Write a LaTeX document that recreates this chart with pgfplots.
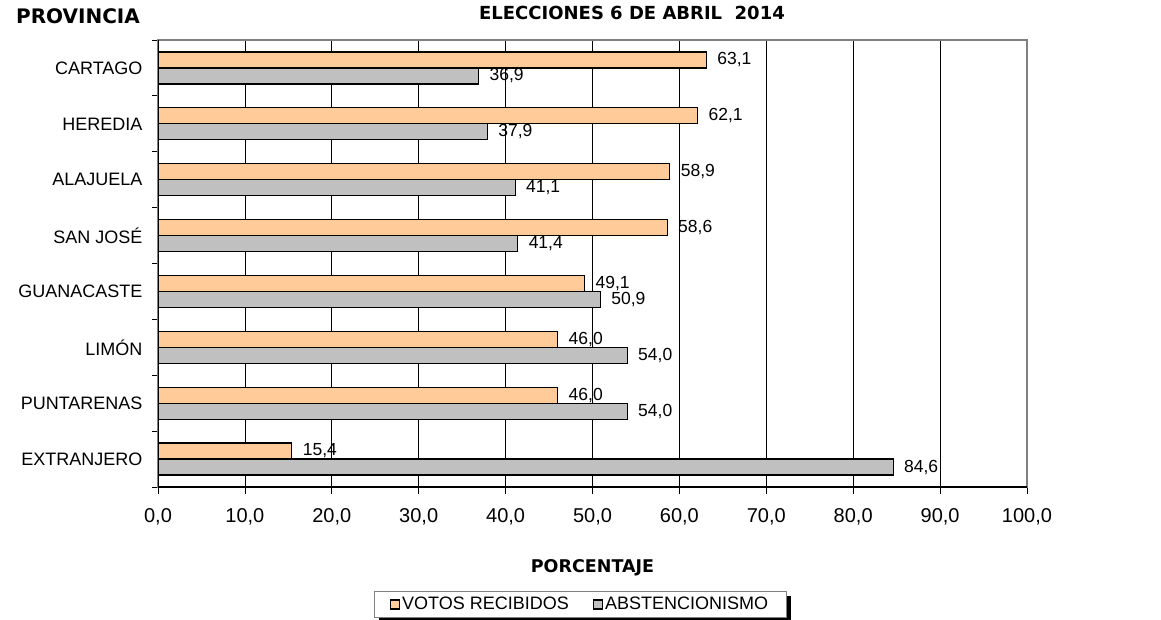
\documentclass[border=0pt]{standalone}
\usepackage{fontspec}
\setmainfont{Liberation Sans}
\newfontfamily\titlefont{DejaVu Sans}
\usepackage{pgfplots}
\pgfplotsset{compat=1.18}
\definecolor{votos}{HTML}{FFCC99}
\definecolor{abst}{HTML}{C0C0C0}
\begin{document}
\begin{tikzpicture}[x=1pt,y=1pt]
\useasboundingbox (0,0) rectangle (1161,619);
\begin{axis}[
  at={(158pt,132pt)}, anchor=south west,
  scale only axis, width=869pt, height=447pt,
  xbar, bar width=16pt,
  xmin=0, xmax=100, ymin=0.5, ymax=8.5,
  xtick={0,10,...,100},
  ytick={1,...,8},
  yticklabels={EXTRANJERO,PUNTARENAS,LIMÓN,GUANACASTE,SAN JOSÉ,ALAJUELA,HEREDIA,CARTAGO},
  minor ytick={0.5,1.5,...,8.5},
  xtick pos=bottom, ytick pos=left,
  tick align=outside,
  major tick length=7pt,
  minor tick length=6pt,
  major y tick style={draw=none},
  minor y tick style={black, line width=0.8pt},
  major x tick style={black, line width=0.8pt},
  xmajorgrids,
  grid style={black, line width=0.8pt},
  axis line style={draw=gray, line width=1.2pt},
  x tick label style={font=\fontsize{20}{20}\selectfont, yshift=-11pt, /pgf/number format/.cd, fixed, fixed zerofill, precision=1, use comma, assume math mode=true},
  y tick label style={font=\fontsize{18}{18}\selectfont, xshift=-5pt},
  xlabel={\titlefont\bfseries PORCENTAJE},
  xlabel style={font=\fontsize{17.5}{17.5}\selectfont, at={(axis description cs:0.5,-0.181)}, anchor=center},
  point meta=x,
  nodes near coords={\pgfmathprintnumber[fixed,fixed zerofill,precision=1,use comma,assume math mode=true]{\pgfplotspointmeta}},
  nodes near coords style={anchor=west, xshift=7pt, font=\fontsize{17.5}{17.5}\selectfont},
  legend columns=2,
  legend style={name=leg, at={(0.4856,-0.2617)}, anchor=center, draw=gray, line width=0.8pt, fill=white,
    font=\fontsize{18}{18}\selectfont,
    /tikz/every even column/.append style={column sep=22pt},
    inner xsep=16pt, inner ysep=4pt},
  legend cell align=left,
]
\addplot[fill=votos, draw=black, line width=1.3pt, bar shift=8pt,
  legend image code/.code={\draw[fill=votos, draw=black, line width=1.2pt] (0pt,-5pt) rectangle (9pt,4pt);}]
  coordinates {(63.1,8) (62.1,7) (58.9,6) (58.6,5) (49.1,4) (46.0,3) (46.0,2) (15.4,1)};
\addplot[fill=abst, draw=black, line width=1.3pt, bar shift=-8pt,
  legend image code/.code={\draw[fill=abst, draw=black, line width=1.2pt] (0pt,-5pt) rectangle (9pt,4pt);}]
  coordinates {(36.9,8) (37.9,7) (41.1,6) (41.4,5) (50.9,4) (54.0,3) (54.0,2) (84.6,1)};
\legend{VOTOS RECIBIDOS, ABSTENCIONISMO}
\draw[black, line width=1.2pt] (rel axis cs:0,0) -- (rel axis cs:0,1);
\draw[black, line width=1.2pt] (rel axis cs:0,0) -- (rel axis cs:1,0);
\end{axis}
\fill[black] ([xshift=0.4pt,yshift=-5pt]leg.north east) rectangle ([xshift=4.5pt,yshift=-2.5pt]leg.south east);
\fill[black] ([xshift=5pt,yshift=-0.4pt]leg.south west) rectangle ([xshift=4.5pt,yshift=-2.5pt]leg.south east);
\node[font=\titlefont\bfseries\fontsize{18}{18}\selectfont] at (632,606) {ELECCIONES 6 DE ABRIL\ \ 2014};
\node[font=\titlefont\bfseries\fontsize{20}{20}\selectfont] at (78,603) {PROVINCIA};
\end{tikzpicture}
\end{document}
